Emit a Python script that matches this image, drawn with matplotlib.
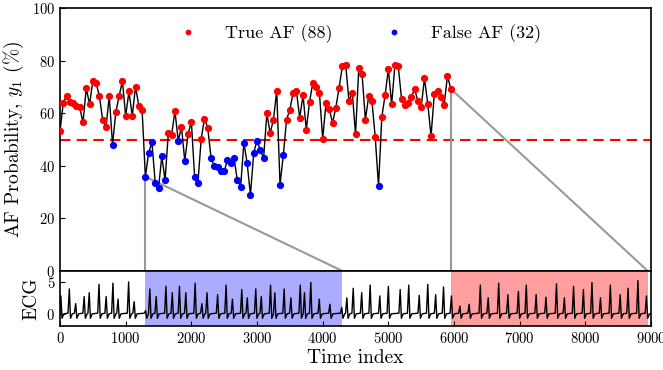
import numpy as np
import matplotlib
matplotlib.use("Agg")
import matplotlib.pyplot as plt

plt.rcParams["font.family"] = "cmr10"
plt.rcParams["mathtext.fontset"] = "cm"
plt.rcParams["axes.formatter.use_mathtext"] = True

# window start index (stride 50) and AF probability (%)
STRIDE = 50
WINDOW = 3000
prob = [
    53.2, 64.0, 66.5, 64.4, 64.1, 62.9, 62.3, 56.5, 69.6, 63.4,
    72.3, 71.5, 66.5, 57.5, 54.6, 66.5, 48.0, 60.5, 66.5, 72.3,
    59.0, 68.3, 59.0, 70.1, 62.9, 61.3, 35.9, 45.0, 48.9, 33.6,
    31.5, 43.6, 34.6, 52.6, 51.9, 60.9, 49.6, 54.8, 41.8, 52.1,
    56.8, 35.8, 33.5, 50.3, 58.0, 54.4, 43.0, 39.8, 39.6, 38.0,
    37.9, 42.3, 41.0, 42.9, 34.6, 32.0, 48.8, 40.9, 29.0, 45.0,
    49.6, 46.0, 42.9, 60.0, 52.5, 57.5, 68.5, 32.9, 44.0, 57.6,
    61.4, 67.9, 68.3, 58.3, 66.9, 53.8, 64.4, 71.6, 70.1, 67.8,
    50.3, 63.8, 61.6, 56.3, 62.1, 69.8, 77.9, 78.5, 64.6, 67.9,
    52.1, 77.3, 74.8, 57.5, 66.5, 64.6, 50.9, 32.3, 58.5, 66.9,
    76.8, 63.4, 78.4, 78.0, 65.6, 63.1, 64.0, 66.3, 69.1, 64.6,
    62.5, 73.3, 63.5, 51.3, 67.5, 68.3, 66.3, 63.3, 74.3, 69.3,
]
threshold = 50.0
zoom_false = 26   # window shown in blue
zoom_true = 119   # window shown in red

# ECG beats: time index and peak height
beat_t = [13, 142, 239, 368, 445, 594, 703, 806, 884, 1045, 1129, 1303, 1368,
          1465, 1613, 1710, 1819, 1916, 2058, 2161, 2239, 2400, 2529, 2626,
          2768, 2852, 2981, 3065, 3206, 3271, 3413, 3516, 3658, 3723, 3819,
          3948, 4110, 4290, 4368, 4465, 4594, 4723, 4870, 5000, 5180, 5310,
          5470, 5600, 5720, 5840, 5960, 6090, 6230, 6400, 6520, 6680, 6820,
          6980, 7100, 7250, 7400, 7560, 7680, 7820, 7970, 8100, 8230, 8380,
          8530, 8650, 8800, 8930]
beat_h = [2.8, 3.9, 1.6, 2.7, 3.3, 4.6, 2.7, 4.8, 2.3, 5.0, 1.9, 0.5, 3.9,
          2.7, 4.3, 3.3, 4.3, 3.3, 4.8, 1.6, 3.3, 3.0, 4.5, 2.3,
          3.8, 2.5, 3.9, 2.7, 4.5, 3.3, 3.9, 2.5, 4.5, 3.3, 4.9,
          2.3, 1.5, 1.0, 2.5, 4.0, 3.3, 4.5, 2.8, 4.3, 3.8, 4.5,
          2.9, 4.6, 3.0, 4.2, 2.8, 1.2, 1.5, 4.5, 2.5, 4.8, 3.0,
          3.5, 4.5, 3.0, 2.6, 4.7, 2.5, 4.3, 3.8, 4.9, 2.5, 4.5,
          3.0, 4.0, 5.2, 2.8]

idx = np.arange(len(prob)) * STRIDE
prob = np.array(prob)
is_true = prob >= threshold

ecg_t, ecg_v = [0], [0.0]
for t, h in zip(beat_t, beat_h):
    ecg_t += [t - 20, t, t + 18, t + 45]
    ecg_v += [0.1, h, -0.7, 0.0]
ecg_t.append(9000)
ecg_v.append(0.0)

fig = plt.figure(figsize=(6.63, 3.70), dpi=100)
ax = fig.add_axes([0.0905, 0.2676, 0.8915, 0.7104])
ax2 = fig.add_axes([0.0905, 0.119, 0.8915, 0.1486])

ax.plot(idx, prob, color="black", lw=1.0, zorder=2)
ax.plot(idx[is_true], prob[is_true], "o", color="red", ms=4.2, zorder=3,
        label=f"True AF ({is_true.sum()})")
ax.plot(idx[~is_true], prob[~is_true], "o", color="blue", ms=4.2, zorder=3,
        label=f"False AF ({(~is_true).sum()})")
ax.axhline(threshold, color="red", ls=(0, (5, 3)), lw=1.5, zorder=1)

for k in (zoom_false, zoom_true):
    x0 = idx[k]
    ax.plot([x0, x0], [prob[k], 0], color="#999999", lw=1.5, zorder=1)
    ax.plot([x0, x0 + WINDOW], [prob[k], 0], color="#999999", lw=1.5, zorder=1)

ax.set_xlim(0, 9000)
ax.set_ylim(0, 100)
ax.set_xticks([])
ax.set_yticks([0, 20, 40, 60, 80, 100])
ax.set_ylabel(r"AF Probability, $y_1$ (%)", fontsize=14)
ax.tick_params(axis="y", direction="in", labelsize=10.5)
ax.legend(loc="upper center", ncol=2, frameon=False, fontsize=13,
          markerscale=0.75, handlelength=2.0, handletextpad=1.05,
          columnspacing=2.4, bbox_to_anchor=(0.5, 1.0))

ax2.axvspan(idx[zoom_false], idx[zoom_false] + WINDOW, color="blue", alpha=0.33, lw=0)
ax2.axvspan(idx[zoom_true], idx[zoom_true] + WINDOW, color="red", alpha=0.38, lw=0)
ax2.plot(ecg_t, ecg_v, color="black", lw=1.0)
ax2.set_xlim(0, 9000)
ax2.set_ylim(-1.9, 6.7)
ax2.set_yticks([0, 5])
ax2.set_xticks(range(0, 9001, 1000))
ax2.set_ylabel("ECG", fontsize=14)
ax2.set_xlabel("Time index", fontsize=14, labelpad=2)
ax2.tick_params(direction="in", labelsize=10.5)

for a in (ax, ax2):
    for s in a.spines.values():
        s.set_linewidth(1.2)

fig.savefig("out.png", dpi=100)
